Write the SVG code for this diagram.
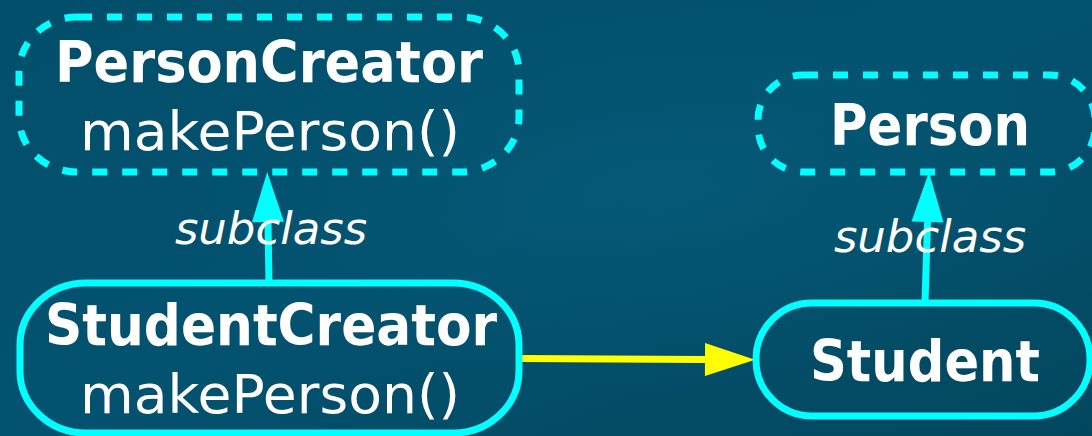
<svg xmlns="http://www.w3.org/2000/svg" width="1092" height="436" viewBox="0 0 1092 436">
  <defs>
    <linearGradient id="bg" x1="0" y1="0" x2="1" y2="1">
      <stop offset="0" stop-color="#024f6b"/>
      <stop offset="0.5" stop-color="#03526f"/>
      <stop offset="1" stop-color="#02475f"/>
    </linearGradient>
    <radialGradient id="glow" cx="0.62" cy="0.45" r="0.45">
      <stop offset="0" stop-color="#0a6a8a" stop-opacity="0.3"/>
      <stop offset="1" stop-color="#0a6a8a" stop-opacity="0"/>
    </radialGradient>
    <!-- arrowheads start at the line end and reach 50px further -->
    <marker id="headCyan" markerUnits="userSpaceOnUse" markerWidth="52" markerHeight="34" refX="0" refY="17" orient="auto" overflow="visible">
      <path d="M0,1 L50,17 L0,33 Z" fill="#00ffff"/>
    </marker>
    <marker id="headYellow" markerUnits="userSpaceOnUse" markerWidth="52" markerHeight="34" refX="0" refY="17" orient="auto" overflow="visible">
      <path d="M0,0.5 L50,17 L0,33.5 Z" fill="#ffff00"/>
    </marker>
    <style>
      .abstract { fill: none; stroke: #00ffff; stroke-width: 7; stroke-dasharray: 15 15; }
      .concrete { fill: none; stroke: #00ffff; stroke-width: 7; }
      .name { font-family: "DejaVu Sans", "Noto Sans", sans-serif; font-weight: bold; font-size: 57px; fill: #ffffff; text-anchor: middle; }
      .method { font-family: "DejaVu Sans", "Noto Sans", sans-serif; font-size: 54px; fill: #ffffff; text-anchor: middle; }
      .label { font-family: "DejaVu Sans", "Noto Sans", sans-serif; font-style: italic; font-size: 45px; fill: #ffffff; text-anchor: middle; }
      .inherit { fill: none; stroke: #00ffff; stroke-width: 7; marker-end: url(#headCyan); }
      .uses { fill: none; stroke: #ffff00; stroke-width: 7; marker-end: url(#headYellow); }
    </style>
  </defs>

  <rect width="1092" height="436" fill="url(#bg)"/>
  <rect width="1092" height="436" fill="url(#glow)"/>

  <!-- connectors -->
  <g id="connectors">
    <line class="inherit" x1="269" y1="283" x2="268" y2="222"/>
    <line class="inherit" x1="925" y1="303" x2="927.5" y2="222"/>
    <line class="uses" x1="519" y1="358.5" x2="705" y2="359.5"/>
  </g>

  <!-- edge labels -->
  <g id="labels">
    <text class="label" x="271" y="244">subclass</text>
    <text class="label" x="930" y="252">subclass</text>
  </g>

  <g id="person-creator">
    <rect class="abstract" x="19" y="17" width="500" height="155" rx="58" ry="55"/>
    <text class="name" x="269" y="82" textLength="428" lengthAdjust="spacingAndGlyphs">PersonCreator</text>
    <text class="method" x="270" y="150" textLength="380" lengthAdjust="spacingAndGlyphs">makePerson()</text>
  </g>

  <g id="person">
    <rect class="abstract" x="758" y="75" width="337" height="97" rx="45" ry="45"/>
    <text class="name" x="930" y="145" textLength="200" lengthAdjust="spacingAndGlyphs">Person</text>
  </g>

  <g id="student-creator">
    <rect class="concrete" x="20" y="283" width="499" height="150" rx="66" ry="62"/>
    <text class="name" x="271" y="345" textLength="452" lengthAdjust="spacingAndGlyphs">StudentCreator</text>
    <text class="method" x="270" y="413" textLength="380" lengthAdjust="spacingAndGlyphs">makePerson()</text>
  </g>

  <g id="student">
    <rect class="concrete" x="756" y="303" width="334" height="113" rx="56" ry="56"/>
    <text class="name" x="925" y="381" textLength="230" lengthAdjust="spacingAndGlyphs">Student</text>
  </g>
</svg>
